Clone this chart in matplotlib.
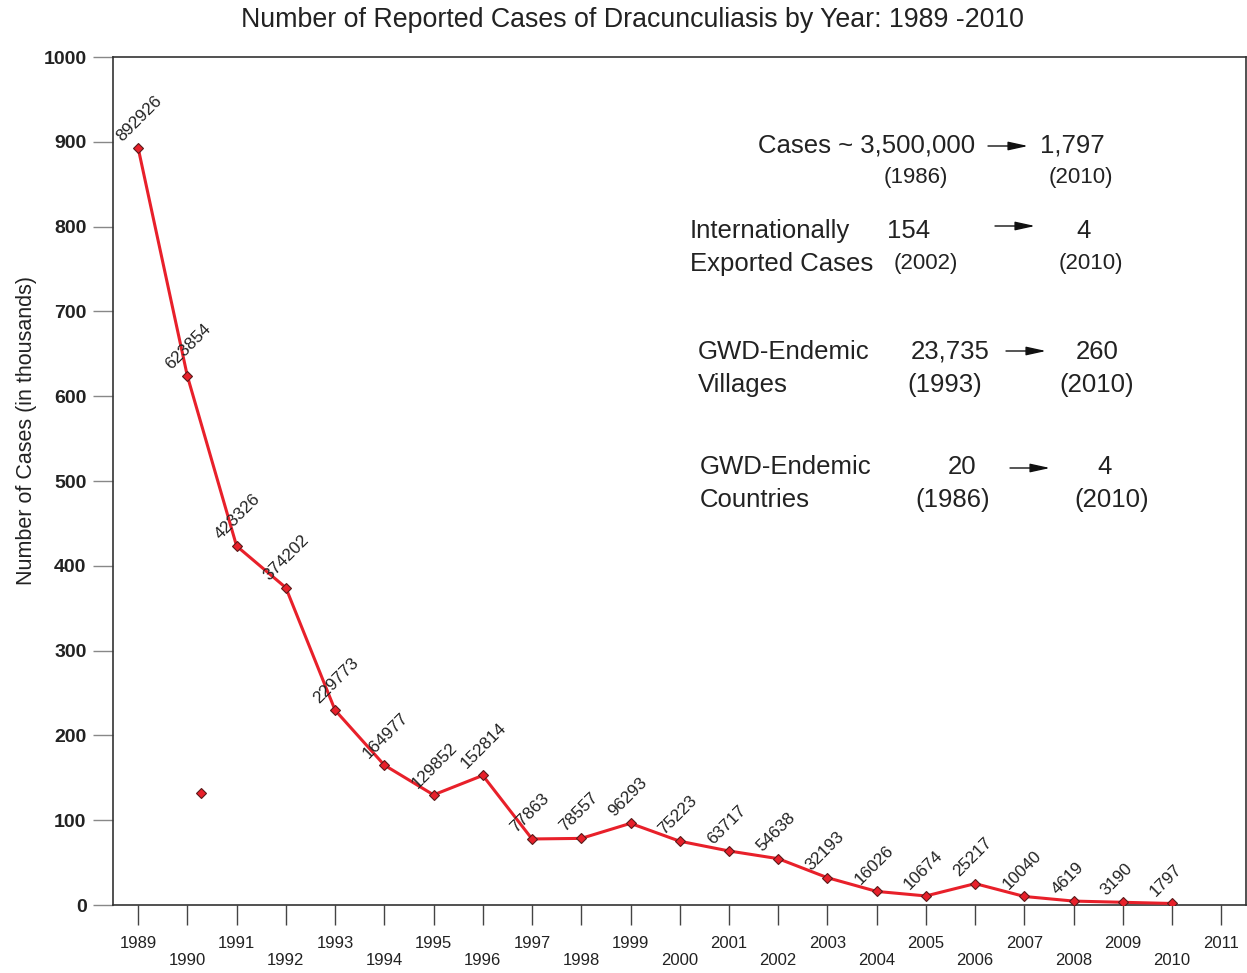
import matplotlib
matplotlib.use('Agg')
import matplotlib.pyplot as plt
import numpy as np

plt.rcParams['font.family'] = ['Liberation Sans', 'DejaVu Sans']

W, H = 1247, 973

# Reported cases per year
years = np.arange(1989, 2011)
cases = [892926, 623854, 423326, 374202, 229773, 164977, 129852, 152814,
         77863, 78557, 96293, 75223, 63717, 54638, 32193, 16026, 10674,
         25217, 10040, 4619, 3190, 1797]
cases_k = np.array(cases) / 1000.0

# stray marker left in the original chart
stray_x = [1990.28]
stray_y = [132]

tick_years = np.arange(1989, 2012)
ytick_vals = np.arange(0, 1001, 100)

line_red = '#e8202a'


def fx(px):
    return px / W


def fy(py):
    return 1 - py / H


fig = plt.figure(figsize=(W / 100, H / 100), dpi=100)
ax = fig.add_axes([fx(113), fy(905), fx(1245.5) - fx(113), fy(57) - fy(905)])

ax.plot(years, cases_k, color=line_red, lw=2.2, zorder=3)
ax.plot(years, cases_k, ls='none', marker='D', ms=5, mfc=line_red,
        mec='#5a1a1a', mew=0.8, zorder=4)
ax.plot(stray_x, stray_y, ls='none', marker='D', ms=5, mfc=line_red,
        mec='#5a1a1a', mew=0.8, zorder=4)

for x, y, v in zip(years, cases_k, cases):
    ax.annotate(str(v), (x, y), xytext=(-10, 3), textcoords='offset points',
                rotation=45, rotation_mode='anchor', ha='left', va='bottom',
                fontsize=12.3, color='#222222')

ax.set_xlim(1988.49, 2011.49)
ax.set_ylim(0, 1000)

ax.set_xticks(tick_years)
ax.set_xticklabels([str(y) if y % 2 == 1 else '\n' + str(y) for y in tick_years],
                   fontsize=12, color='#222222', linespacing=1.15)
ax.set_yticks(ytick_vals)
ax.set_yticklabels([str(v) for v in ytick_vals], fontsize=14, fontweight='bold',
                   color='#222222')
ax.tick_params(axis='x', direction='out', length=14.5, width=1, color='#444444', pad=8)
ax.tick_params(axis='y', direction='out', length=14.5, width=1, color='#888888', pad=4.5)

for s in ax.spines.values():
    s.set_color('#333333')
    s.set_linewidth(1.2)

ax.set_ylabel('Number of Cases (in thousands)', fontsize=15.5, color='#222222')
ax.yaxis.set_label_coords(-0.067, 0.56)

fig.text(fx(632), fy(20), 'Number of Reported Cases of Dracunculiasis by Year: 1989 -2010',
         ha='center', va='center', fontsize=19.3, color='#222222')

big = 18.5
small = 16
tc = '#222222'


def t(x, y, s, size=big, ha='left'):
    fig.text(fx(x), fy(y), s, ha=ha, va='center', fontsize=size, color=tc)


def arrow(x0, x1, y):
    fig.add_artist(matplotlib.patches.FancyArrowPatch(
        (fx(x0), fy(y)), (fx(x1), fy(y)), transform=fig.transFigure,
        arrowstyle='-|>,head_length=1.0,head_width=0.22', mutation_scale=12,
        shrinkA=0, shrinkB=0, lw=1, color='#111111'))


# block 1
t(975, 146, 'Cases ~ 3,500,000', ha='right')
t(1040, 146, '1,797')
t(916, 177, '(1986)', small, 'center')
t(1081, 177, '(2010)', small, 'center')
arrow(988, 1028, 146)

# block 2
t(690, 231, 'Internationally')
t(887, 231, '154')
t(1084, 231, '4', ha='center')
t(690, 264, 'Exported Cases')
t(926, 264, '(2002)', small, 'center')
t(1091, 264, '(2010)', small, 'center')
arrow(995, 1035, 226)

# block 3
t(698, 352, 'GWD-Endemic')
t(990, 352, '23,735', ha='right')
t(1097, 352, '260', ha='center')
t(698, 385, 'Villages')
t(945, 385, '(1993)', ha='center')
t(1097, 385, '(2010)', ha='center')
arrow(1006, 1046, 351)

# block 4
t(700, 467, 'GWD-Endemic')
t(962, 467, '20', ha='center')
t(1105, 467, '4', ha='center')
t(700, 500, 'Countries')
t(953, 500, '(1986)', ha='center')
t(1112, 500, '(2010)', ha='center')
arrow(1010, 1050, 468)

fig.savefig('out.png', dpi=100)
